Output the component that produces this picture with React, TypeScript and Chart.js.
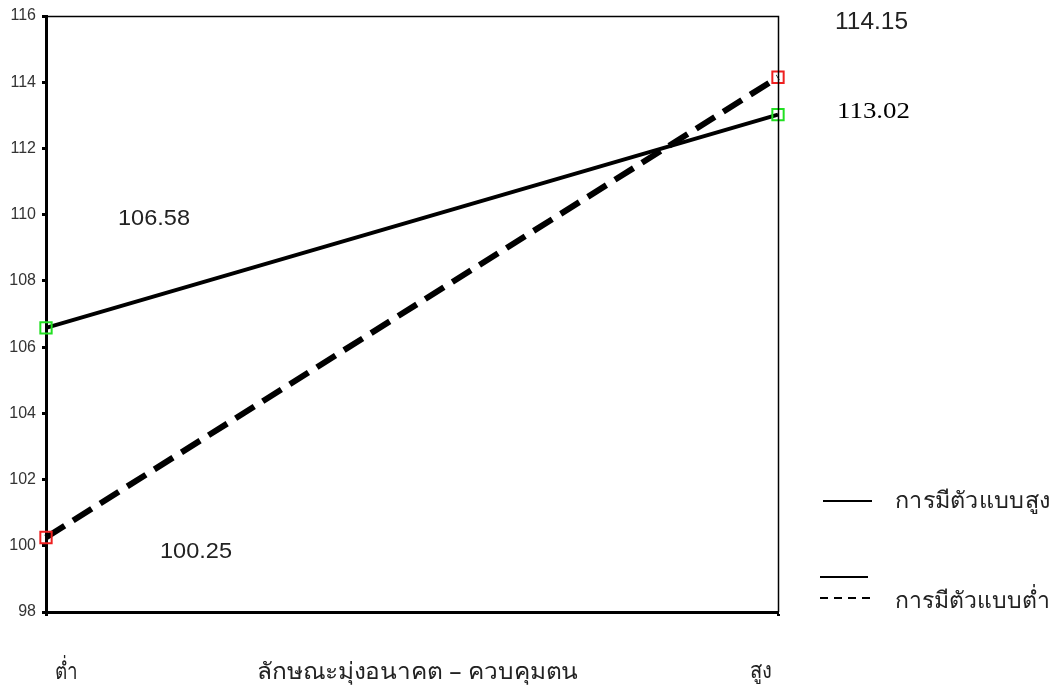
import React, { useEffect, useRef } from "react";
import { Chart, registerables } from "chart.js";

Chart.register(...registerables);

const categories = ["ต่ำ", "สูง"];
const xTitle = "ลักษณะมุ่งอนาคต – ควบคุมตน";
const seriesNames = ["การมีตัวแบบสูง", "การมีตัวแบบต่ำ"];
const highModel = [106.58, 113.02];
const lowModel = [100.25, 114.15];
const yMin = 98;
const yMax = 116;
const yStep = 2;

const SANS = "'Liberation Sans', Arial, sans-serif";
const SERIF = "'Liberation Serif', 'Times New Roman', serif";
const THAI = "'Noto Sans', 'DejaVu Sans', 'Liberation Sans', sans-serif";

function stretchText(ctx: any, text: string, x: number, baseline: number, font: string, width: number, sy = 1, refText?: string) {
  ctx.save();
  ctx.font = font;
  ctx.textBaseline = "alphabetic";
  ctx.textAlign = "left";
  const w = ctx.measureText(refText ?? text).width;
  ctx.translate(x, baseline);
  ctx.scale(width / w, sy);
  ctx.fillText(text, 0, 0);
  ctx.restore();
}

const annotate = {
  id: "annotate",
  afterDraw(chart: any) {
    const { ctx, chartArea } = chart;
    ctx.save();
    // thin top & right border
    ctx.strokeStyle = "#000";
    ctx.lineWidth = 1.5;
    ctx.beginPath();
    ctx.moveTo(chartArea.left, chartArea.top + 0.5);
    ctx.lineTo(chartArea.right + 0.5, chartArea.top + 0.5);
    ctx.lineTo(chartArea.right + 0.5, chartArea.bottom);
    ctx.stroke();

    // value labels
    ctx.fillStyle = "#222";
    stretchText(ctx, lowModel[1].toFixed(2), 835, 29, `23px ${SANS}`, 73);
    stretchText(ctx, highModel[0].toFixed(2), 118, 225, `22px ${SANS}`, 72);
    stretchText(ctx, lowModel[0].toFixed(2), 160, 558, `22px ${SANS}`, 72);
    ctx.fillStyle = "#000";
    stretchText(ctx, highModel[1].toFixed(2), 837, 118, `24px ${SERIF}`, 73);

    // x labels
    ctx.fillStyle = "#222";
    stretchText(ctx, categories[0], 55, 679, `23px ${THAI}`, 23);
    stretchText(ctx, xTitle, 257, 679, `23px ${THAI}`, 186, 1, "ลักษณะมุ่งอนาคต");
    stretchText(ctx, categories[1], 750, 678, `23px ${THAI}`, 22);

    // legend
    ctx.strokeStyle = "#000";
    ctx.lineWidth = 2;
    ctx.beginPath();
    ctx.moveTo(823, 501);
    ctx.lineTo(872, 501);
    ctx.moveTo(820, 577);
    ctx.lineTo(868, 577);
    ctx.stroke();
    ctx.setLineDash([8, 6]);
    ctx.beginPath();
    ctx.moveTo(820, 598);
    ctx.lineTo(872, 598);
    ctx.stroke();
    ctx.setLineDash([]);
    stretchText(ctx, seriesNames[0], 895, 508, `23px ${THAI}`, 155);
    stretchText(ctx, seriesNames[1], 895, 608, `23px ${THAI}`, 155);
    ctx.restore();
  },
};

export default function App() {
  const ref = useRef<HTMLCanvasElement>(null);
  useEffect(() => {
    document.body.style.margin = "0";
    const chart = new Chart(ref.current!, {
      type: "line",
      data: {
        labels: categories,
        datasets: [
          {
            label: seriesNames[0],
            data: highModel,
            borderColor: "#000",
            borderWidth: 4,
            pointStyle: "rect",
            pointRadius: 8,
            pointBorderColor: "#22e022",
            pointBackgroundColor: "rgba(0,0,0,0)",
            pointBorderWidth: 2,
            clip: false,
          },
          {
            label: seriesNames[1],
            data: lowModel,
            borderColor: "#000",
            borderWidth: 6,
            borderDash: [22, 10],
            pointStyle: "rect",
            pointRadius: 8,
            pointBorderColor: "#ee2020",
            pointBackgroundColor: "rgba(0,0,0,0)",
            pointBorderWidth: 2,
            clip: false,
          },
        ],
      },
      options: {
        animation: false,
        responsive: false,
        layout: { padding: { top: 16, right: 280, left: 0, bottom: 0 } },
        plugins: { legend: { display: false }, tooltip: { enabled: false } },
        scales: {
          x: {
            offset: false,
            grid: { drawOnChartArea: false, tickLength: 4, tickWidth: 3, tickColor: "#000" },
            border: { color: "#000", width: 3 },
            ticks: { display: false },
            afterFit: (s: any) => { s.height = 79; },
          },
          y: {
            min: yMin,
            max: yMax,
            ticks: {
              stepSize: yStep,
              color: "#333",
              font: { size: 16, family: SANS },
              padding: 6,
            },
            grid: { drawOnChartArea: false, tickLength: 4, tickWidth: 3, tickColor: "#000" },
            border: { color: "#000", width: 3 },
            afterFit: (s: any) => { s.width = 46; },
          },
        },
      },
      plugins: [annotate],
    });
    return () => chart.destroy();
  }, []);
  return (
    <div style={{ position: "absolute", left: 0, top: 0, width: 1058, height: 691 }}>
      <canvas ref={ref} width={1058} height={691} />
    </div>
  );
}
